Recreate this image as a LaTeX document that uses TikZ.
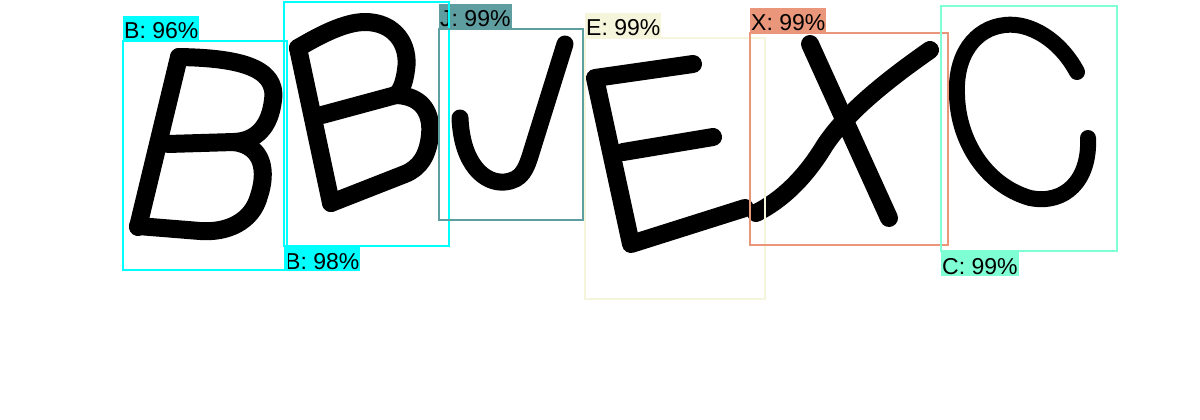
\documentclass[tikz,border=0pt]{standalone}
\usepackage{fontspec}
\setmainfont{Liberation Sans}
\definecolor{boxcyan}{RGB}{0,255,255}
\definecolor{cadetblue}{RGB}{95,158,160}
\definecolor{beigetone}{RGB}{245,245,220}
\definecolor{darksalmon}{RGB}{233,150,122}
\definecolor{aquamarine}{RGB}{127,255,212}
\tikzset{
  inkline/.style={line width=18pt, line cap=round, line join=round, black},
  bbox/.style={line width=2pt},
  tag/.style={inner xsep=1pt, inner ysep=0pt, text height=23pt, text depth=2pt,
    font=\fontsize{23}{27}\selectfont, text=black}
}
\begin{document}
\begin{tikzpicture}[x=1pt,y=-1pt]
	\fill[white] (0,0) rectangle (1200,420);
	% handwritten letters
	\draw[inkline] (179,57)--(138,227);
	\draw[inkline] (179,57) .. controls (235,58) and (278,66) .. (273,100) .. controls (270,126) and (257,141) .. (234,142) -- (168,144);
	\draw[inkline] (234,142) .. controls (264,146) and (267,172) .. (259,196) .. controls (252,222) and (227,233) .. (200,231) -- (138,226);
	\draw[inkline] (298,48)--(331,203);
	\draw[inkline] (298,48) .. controls (320,35) and (345,22) .. (365,22) .. controls (395,22) and (410,45) .. (406,70) .. controls (404,85) and (400,92) .. (396,95) -- (322,115);
	\draw[inkline] (396,95) .. controls (424,96) and (432,115) .. (430,135) .. controls (428,155) and (420,168) .. (405,174) -- (331,203);
	\draw[inkline, line width=17pt] (460,118) .. controls (462,165) and (485,184) .. (505,182) .. controls (522,180) and (526,170) .. (532,150) -- (565,44);
	\draw[inkline] (693,64)--(595,78)--(631,244)--(745,208);
	\draw[inkline] (623,152)--(713,137);
	\draw[inkline] (810,44)--(889,218);
	\draw[inkline] (930,50) .. controls (880,85) and (845,115) .. (825,145) .. controls (805,178) and (782,200) .. (756,213);
	\draw[inkline, line width=16pt] (1077,72) .. controls (1060,40) and (1030,22) .. (1005,25) .. controls (975,28) and (955,55) .. (957,95) .. controls (958,140) and (985,185) .. (1030,198) .. controls (1065,205) and (1090,180) .. (1088,138);
	% box corners
	\coordinate (b1) at (123,41);  \coordinate (b1end) at (287,270);
	\coordinate (b2) at (284,2);   \coordinate (b2end) at (449,246);
	\coordinate (j)  at (439,29);  \coordinate (jend)  at (583,220);
	\coordinate (e)  at (585,38);  \coordinate (eend)  at (765,299);
	\coordinate (x)  at (750,33);  \coordinate (xend)  at (948,245);
	\coordinate (c)  at (941,6);   \coordinate (cend)  at (1117,251);
	% tags
	\node[tag, fill=boxcyan, anchor=south west] (tagB1) at (b1) {B: 96\%};
	\node[tag, fill=boxcyan, anchor=north west] (tagB2) at (b2 |- b2end) {B: 98\%};
	\node[tag, fill=cadetblue, anchor=south west] (tagJ) at (j) {J: 99\%};
	\node[tag, fill=beigetone, anchor=south west] (tagE) at (e) {E: 99\%};
	\node[tag, fill=darksalmon, anchor=south west] (tagX) at (x) {X: 99\%};
	\node[tag, fill=aquamarine, anchor=north west] (tagC) at (c |- cend) {C: 99\%};
	% boxes
	\draw[bbox, boxcyan] (b1) rectangle (b1end);
	\draw[bbox, boxcyan] (b2) rectangle (b2end);
	\draw[bbox, cadetblue] (j) rectangle (jend);
	\draw[bbox, beigetone] (e) rectangle (eend);
	\draw[bbox, darksalmon] (x) rectangle (xend);
	\draw[bbox, aquamarine] (c) rectangle (cend);
\end{tikzpicture}
\end{document}
